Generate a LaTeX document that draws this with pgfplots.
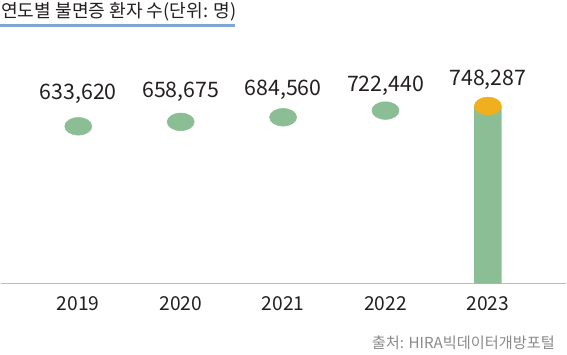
\documentclass[border=0pt]{standalone}
\usepackage{pgfplots}
\pgfplotsset{compat=1.18}
\usepackage{fontspec}
\setmainfont{Noto Sans CJK KR}
\definecolor{barg}{HTML}{8BBE94}
\definecolor{baro}{HTML}{F0B01E}
\definecolor{txt}{HTML}{231F20}
\definecolor{uline}{HTML}{7FA6D6}
\definecolor{src}{HTML}{8A8A8A}
\definecolor{basel}{HTML}{BDBDBD}
\pgfplotstableread{
x y lab dy
0 633620 633,620 20.25
1 658675 658,675 18.45
2 684560 684,560 16.0
3 722440 722,440 14.2
}\dotsdata
\pgfplotstableread{
x y lab dy
4 748287 748,287 15.75
}\topdata
\begin{document}
\begin{tikzpicture}[x=1pt,y=1pt]
\useasboundingbox (0,0) rectangle (425.25,265.5);
\node[anchor=base west, inner sep=0, text=txt, font=\fontsize{13.6}{16}\selectfont] at (0.75,252) {연도별 불면증 환자 수(단위: 명)};
\draw[uline, line width=2.5pt] (0,246.2) -- (176.25,246.2);
\begin{axis}[
  at={(0.75pt,52.875pt)}, anchor=south west,
  scale only axis, width=423.75pt, height=167.625pt,
  xmin=-0.755, xmax=4.763, ymin=-254368, ymax=1008127,
  axis x line*=bottom, axis y line=none,
  x axis line style={basel, line width=1.4pt},
  xtick={0,1,2,3,4}, xticklabels={2019,2020,2021,2022,2023},
  ytick=\empty, major tick length=0pt,
  xticklabel style={anchor=base, yshift=-19.9pt, text=txt, font=\fontsize{14.4}{16}\selectfont},
  clip=false,
]
\addplot[fill=barg, draw=none] coordinates {(3.866,-254368) (3.866,748287) (4.134,748287) (4.134,-254368) (3.866,-254368)};
\addplot[barg, only marks, mark=*, mark size=6.6pt, mark options={xscale=1.54, draw=barg, fill=barg},
  nodes near coords, point meta=explicit symbolic,
  visualization depends on={\thisrow{dy} \as \dy},
  every node near coord/.append style={anchor=base, yshift=\dy pt, text=txt, font=\fontsize{16}{18}\selectfont}]
  table[x=x, y=y, meta=lab] {\dotsdata};
\addplot[baro, only marks, mark=*, mark size=6.6pt, mark options={xscale=1.54, draw=baro, fill=baro},
  nodes near coords, point meta=explicit symbolic,
  visualization depends on={\thisrow{dy} \as \dy},
  every node near coord/.append style={anchor=base, yshift=\dy pt, text=txt, font=\fontsize{16}{18}\selectfont}]
  table[x=x, y=y, meta=lab] {\topdata};
\end{axis}
\node[anchor=base east, inner sep=0, text=src, font=\fontsize{11.4}{13}\selectfont] at (416.25,4.3) {출처: HIRA빅데이터개방포털};
\end{tikzpicture}
\end{document}
